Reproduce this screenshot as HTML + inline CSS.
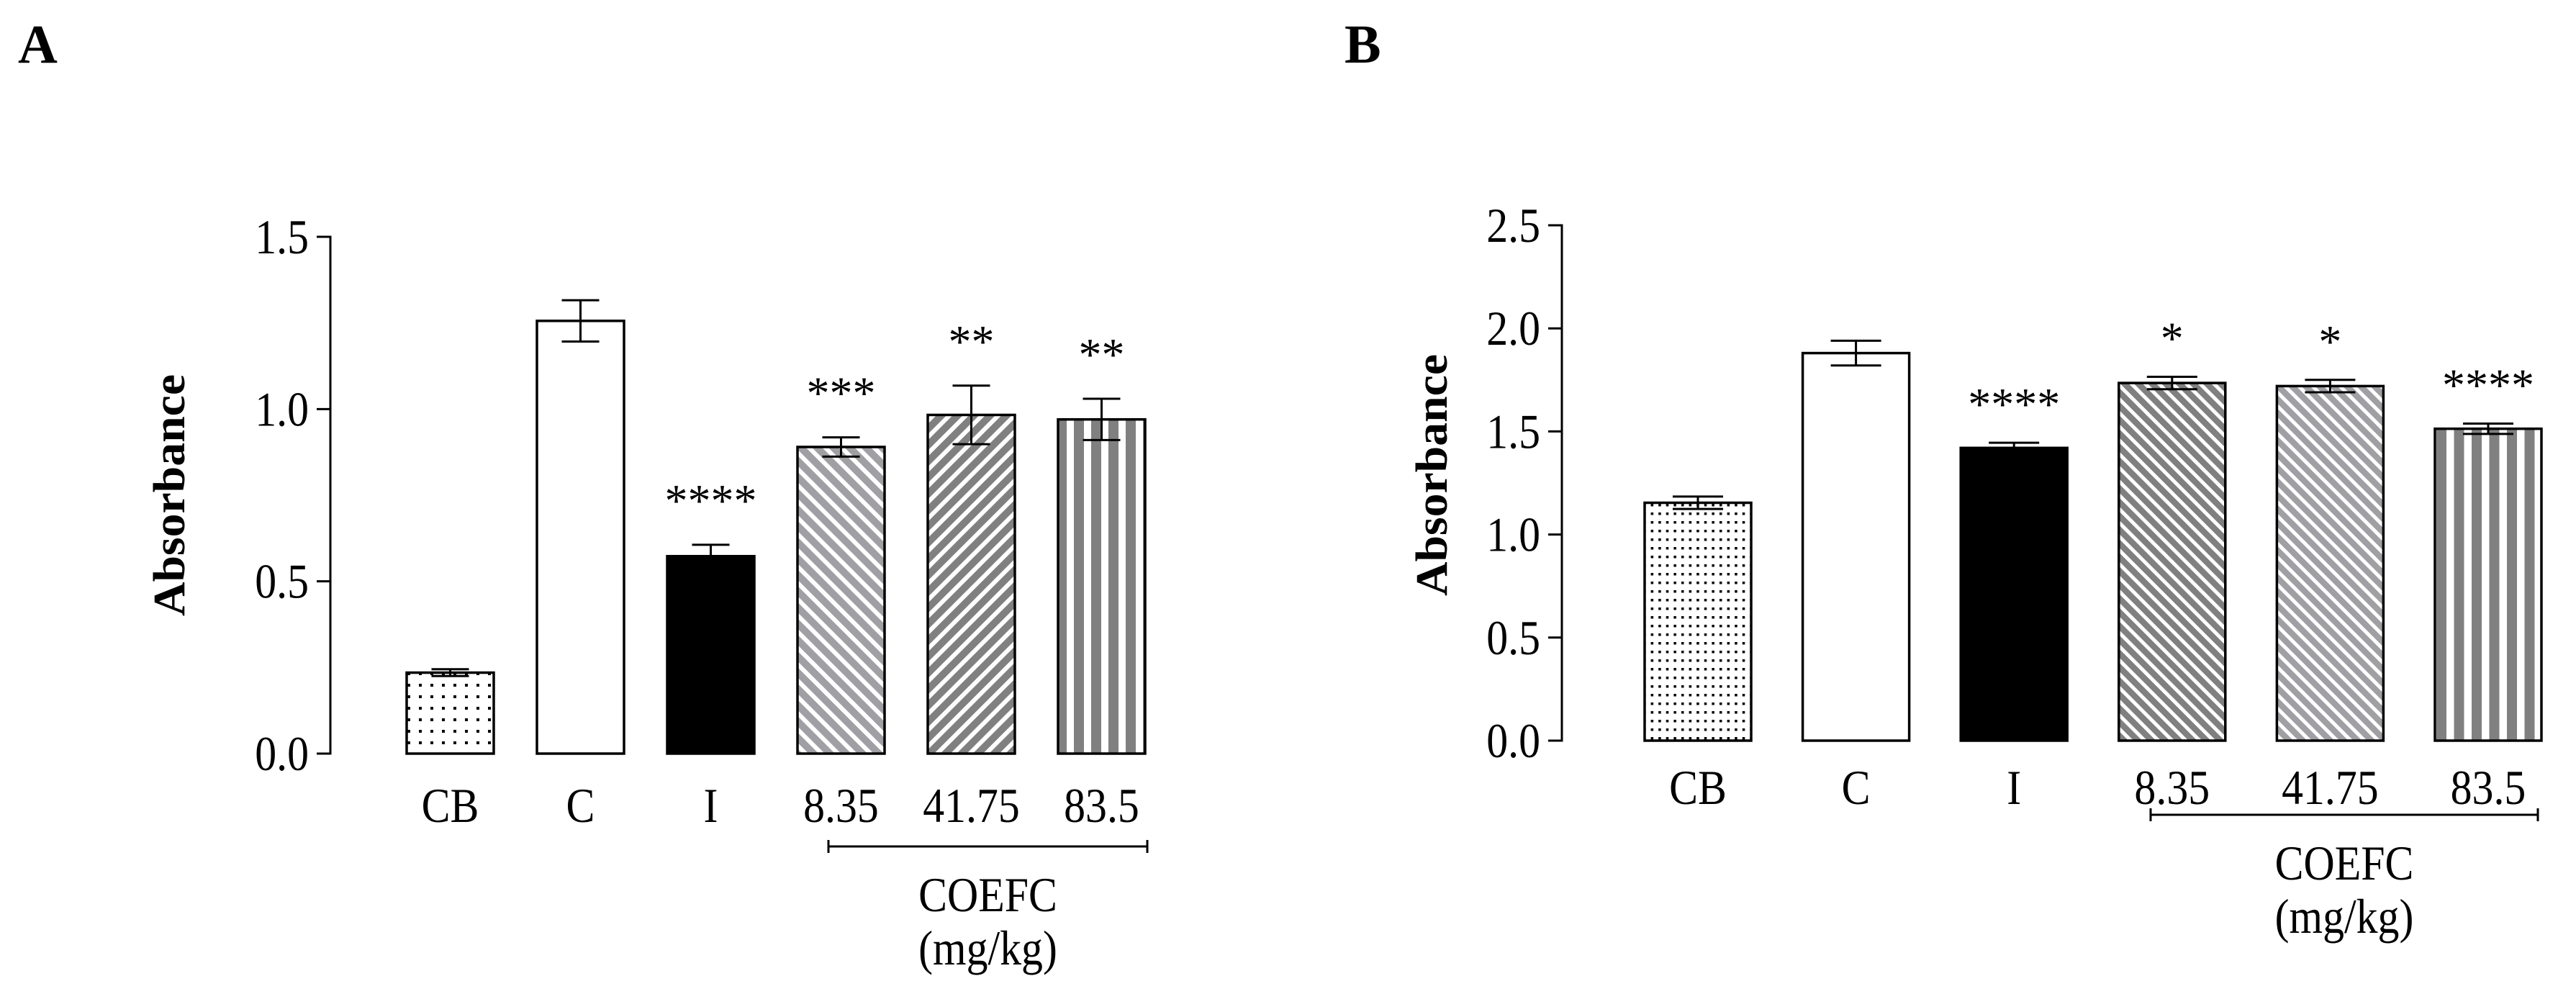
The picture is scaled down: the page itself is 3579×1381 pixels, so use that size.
<!DOCTYPE html>
<html><head><meta charset="utf-8"><style>
html,body{margin:0;padding:0;background:#fff;}
svg{display:block;}
text{font-family:"Liberation Serif","Times New Roman",serif;fill:#000;}
</style></head>
<body>
<svg id="fig" width="3579" height="1381" viewBox="0 0 3579 1381" xmlns="http://www.w3.org/2000/svg">
<defs>
<pattern id="dotsA" width="16" height="16" patternUnits="userSpaceOnUse"><rect x="6" y="6" width="4" height="4" fill="#000"/></pattern>
<pattern id="dotsB" width="10.6" height="12" patternUnits="userSpaceOnUse"><rect x="4" y="4" width="3.5" height="3.5" fill="#000"/></pattern>
<pattern id="diagLightA" width="16" height="16" patternUnits="userSpaceOnUse" patternTransform="rotate(45)"><rect width="16" height="16" fill="#fff"/><rect width="16" height="10" fill="#a0a0a4"/></pattern>
<pattern id="diagDarkA" width="16" height="16" patternUnits="userSpaceOnUse" patternTransform="rotate(-45)"><rect width="16" height="16" fill="#fff"/><rect width="16" height="10" fill="#808080"/></pattern>
<pattern id="vertA" width="24" height="24" patternUnits="userSpaceOnUse"><rect width="24" height="24" fill="#fff"/><rect x="4" width="14" height="24" fill="#808080"/></pattern>
<pattern id="diagDarkB" width="13.5" height="13.5" patternUnits="userSpaceOnUse" patternTransform="rotate(45)"><rect width="13.5" height="13.5" fill="#fff"/><rect width="13.5" height="8.5" fill="#808080"/></pattern>
<pattern id="diagLightB" width="13.5" height="13.5" patternUnits="userSpaceOnUse" patternTransform="rotate(45)"><rect width="13.5" height="13.5" fill="#fff"/><rect width="13.5" height="8.5" fill="#a0a0a4"/></pattern>
<pattern id="vertB" width="24.5" height="24" patternUnits="userSpaceOnUse"><rect width="24.5" height="24" fill="#fff"/><rect x="4" width="14" height="24" fill="#808080"/></pattern>
</defs>
<g id="panelA"></g>
<g id="panelB"></g>
</svg>
<script>
const categories = ["CB","C","I","8.35","41.75","83.5"];
const valuesA = [0.235, 1.256, 0.573, 0.89, 0.983, 0.97];
const errorsA = [0.01, 0.06, 0.033, 0.028, 0.085, 0.06];
const starsA = ["", "", "****", "***", "**", "**"];
const ticksA = [0, 0.5, 1.0, 1.5];
const tickLabelsA = ["0.0","0.5","1.0","1.5"];
const valuesB = [1.154, 1.88, 1.42, 1.735, 1.72, 1.513];
const errorsB = [0.03, 0.06, 0.025, 0.03, 0.03, 0.025];
const starsB = ["", "", "****", "*", "*", "****"];
const ticksB = [0, 0.5, 1.0, 1.5, 2.0, 2.5];
const tickLabelsB = ["0.0","0.5","1.0","1.5","2.0","2.5"];

const NS = "http://www.w3.org/2000/svg";
function mk(parent, tag, attrs){
  const e = document.createElementNS(NS, tag);
  for (const k in attrs) e.setAttribute(k, attrs[k]);
  parent.appendChild(e);
  return e;
}
function txt(parent, x, y, s, size, weight, anchor, sx){
  const g = mk(parent, "g", {transform:`translate(${x},${y}) scale(${sx},1)`});
  const t = mk(g, "text", {x:0, y:0, "font-size":size, "font-weight":weight, "text-anchor":anchor});
  t.textContent = s;
  return t;
}

function drawPanel(cfg){
  const root = document.getElementById(cfg.id);
  const y = v => cfg.y0 - (v / cfg.vmax) * (cfg.y0 - cfg.ytop);
  const xb = i => cfg.bx0 + i * cfg.step;

  const L = txt(root, cfg.letterX, 87, cfg.letter, 76, "bold", "start", 1);
  
  

  const ax = mk(root, "line", {x1:cfg.ax, y1:cfg.ytop, x2:cfg.ax, y2:cfg.y0+1.5, stroke:"#000","stroke-width":3});
  
  
  cfg.ticks.forEach((t, i) => {
    const tk = mk(root, "line", {x1:cfg.ax-19, y1:y(t), x2:cfg.ax+1.5, y2:y(t), stroke:"#000","stroke-width":3});
    
    
    const tl = txt(root, cfg.ax-30, y(t)+23, cfg.tickLabels[i], 68, "normal", "end", 0.88);
    
    
  });
  const g = mk(root, "g", {transform:`translate(${cfg.titleX},${cfg.titleY}) rotate(-90)`});
  const yt = mk(g, "text", {x:0, y:0, "font-size":62, "font-weight":"bold", "text-anchor":"middle", textLength:336, lengthAdjust:"spacingAndGlyphs"});
  yt.textContent = "Absorbance";
  
  

  cfg.values.forEach((v, i) => {
    const x = xb(i);
    const r = mk(root, "rect", {x:x, y:y(v), width:cfg.bw, height:cfg.y0 - y(v), fill:cfg.fills[i], stroke:"#000","stroke-width":3.5});
    
    
    const cx = x + cfg.bw/2;
    const e = cfg.errors[i];
    const eb = mk(root, "path", {d:`M${cx},${y(v+e)} L${cx},${y(v-e)} M${cx-cfg.cap/2},${y(v+e)} L${cx+cfg.cap/2},${y(v+e)} M${cx-cfg.cap/2},${y(v-e)} L${cx+cfg.cap/2},${y(v-e)}`, stroke:"#000","stroke-width":3, fill:"none"});
    
    
    if (cfg.stars[i]) {
      const st = txt(root, cx, y(v+e) - cfg.starGap, cfg.stars[i], 64, "normal", "middle", 1);
      
      
    }
    const xl = txt(root, cx, cfg.xlabY, categories[i], 68, "normal", "middle", 0.88);
    
    
  });

  const br = mk(root, "path", {d:`M${cfg.brX1},${cfg.brY} L${cfg.brX2},${cfg.brY} M${cfg.brX1},${cfg.brY-9} L${cfg.brX1},${cfg.brY+9} M${cfg.brX2},${cfg.brY-9} L${cfg.brX2},${cfg.brY+9}`, stroke:"#000","stroke-width":3, fill:"none"});
  
  
  const mid = (cfg.brX1 + cfg.brX2)/2;
  const c1 = txt(root, mid, cfg.brY + 90, "COEFC", 68, "normal", "middle", 0.88);
  
  
  const c2 = txt(root, mid, cfg.brY + 164, "(mg/kg)", 68, "normal", "middle", 0.88);
  
  
}

drawPanel({id:"panelA", letter:"A", letterX:25, ax:459, y0:1047, ytop:329, vmax:1.5,
  ticks:ticksA, tickLabels:tickLabelsA, values:valuesA, errors:errorsA, stars:starsA,
  bx0:565, step:181, bw:121, cap:52, titleX:256, titleY:688, xlabY:1142, starGap:40,
  fills:["url(#dotsA)","#fff","#000","url(#diagLightA)","url(#diagDarkA)","url(#vertA)"],
  brX1:1151, brX2:1594, brY:1176});
drawPanel({id:"panelB", letter:"B", letterX:1868, ax:2170, y0:1029, ytop:313, vmax:2.5,
  ticks:ticksB, tickLabels:tickLabelsB, values:valuesB, errors:errorsB, stars:starsB,
  bx0:2285, step:219.6, bw:148, cap:70, titleX:2010, titleY:660, xlabY:1117, starGap:32,
  fills:["url(#dotsB)","#fff","#000","url(#diagDarkB)","url(#diagLightB)","url(#vertB)"],
  brX1:2988, brX2:3526, brY:1132});
</script>
</body></html>
